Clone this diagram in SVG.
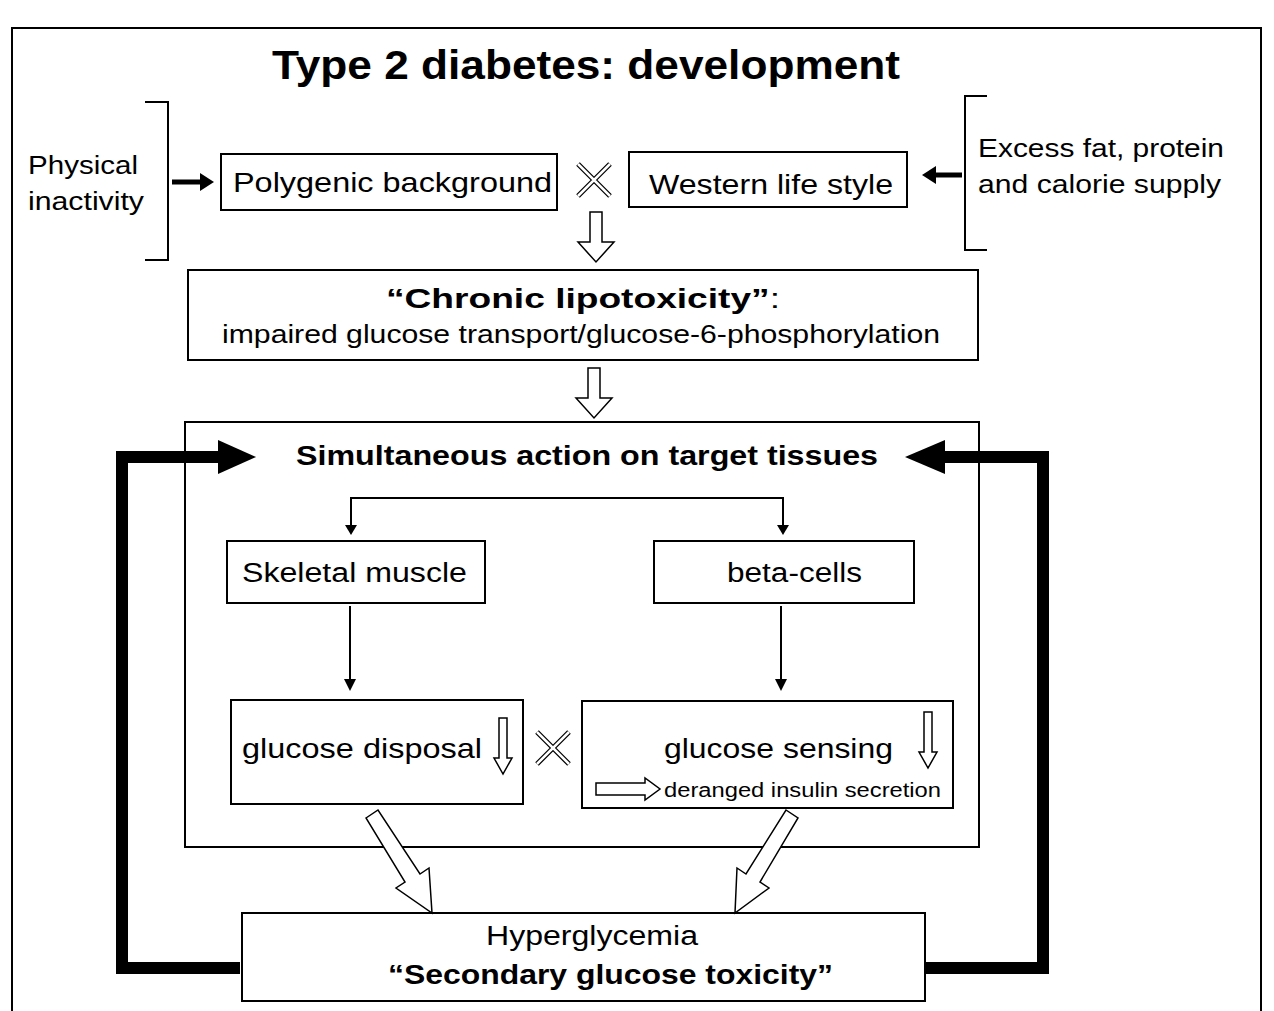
<svg xmlns="http://www.w3.org/2000/svg" width="1274" height="1011" viewBox="0 0 1274 1011">
<style>
.b{fill:#fff;stroke:#000;stroke-width:2}
.t{font-family:"Liberation Sans",Arial,sans-serif;fill:#000}
.h{fill:#fff;stroke:#000;stroke-width:1.5}
.th{fill:none;stroke:#000;stroke-width:12}
.ln{fill:none;stroke:#000;stroke-width:2}
</style>
<defs>
<g id="dn"><polygon class="h" points="-6,0 6,0 6,30 18,30 0,50 -18,30 -6,30"/></g>
<g id="sdn"><polygon class="h" points="-4,0 4,0 4,40 9,40 0,56 -9,40 -4,40"/></g>
<g id="x"><path d="M-16,-16 L16,16 M16,-16 L-16,16" stroke="#000" stroke-width="5"/><path d="M-16,-16 L16,16 M16,-16 L-16,16" stroke="#fff" stroke-width="2.5"/></g>
</defs>
<rect x="0" y="0" width="1274" height="1011" fill="#fff"/>
<rect x="12" y="28" width="1249" height="1000" fill="none" stroke="#000" stroke-width="2"/>
<text class="t" x="272" y="79" font-size="40" font-weight="bold" textLength="628" lengthAdjust="spacingAndGlyphs">Type 2 diabetes: development</text>

<g id="brackets">
<path class="ln" d="M145,102 H168 V260 H145" stroke-width="4"/>
<path class="ln" d="M987,96 H965 V250 H987" stroke-width="4"/>
<text class="t" x="28" y="174" font-size="26" textLength="110" lengthAdjust="spacingAndGlyphs">Physical</text>
<text class="t" x="28" y="210" font-size="26" textLength="116" lengthAdjust="spacingAndGlyphs">inactivity</text>
<text class="t" x="978" y="157" font-size="26" textLength="246" lengthAdjust="spacingAndGlyphs">Excess fat, protein</text>
<text class="t" x="978" y="193" font-size="26" textLength="243" lengthAdjust="spacingAndGlyphs">and calorie supply</text>
</g>

<g id="n1"><rect class="b" x="221" y="154" width="336" height="56"/><text class="t" x="233" y="192" font-size="28" textLength="319" lengthAdjust="spacingAndGlyphs">Polygenic background</text></g>
<g id="n2"><rect class="b" x="629" y="152" width="278" height="55"/><text class="t" x="649" y="194" font-size="28" textLength="244" lengthAdjust="spacingAndGlyphs">Western life style</text></g>
<g id="n3"><rect class="b" x="188" y="270" width="790" height="90"/>
<text class="t" x="386" y="308" font-size="27" textLength="394" lengthAdjust="spacingAndGlyphs"><tspan font-weight="bold">“Chronic lipotoxicity”</tspan>:</text>
<text class="t" x="222" y="343" font-size="26" textLength="718" lengthAdjust="spacingAndGlyphs">impaired glucose transport/glucose-6-phosphorylation</text></g>
<g id="n4"><rect class="b" x="185" y="422" width="794" height="425"/>
<text class="t" x="296" y="465" font-size="28" font-weight="bold" textLength="582" lengthAdjust="spacingAndGlyphs">Simultaneous action on target tissues</text></g>
<g id="n5"><rect class="b" x="227" y="541" width="258" height="62"/><text class="t" x="242" y="582" font-size="27" textLength="225" lengthAdjust="spacingAndGlyphs">Skeletal muscle</text></g>
<g id="n6"><rect class="b" x="654" y="541" width="260" height="62"/><text class="t" x="727" y="582" font-size="27" textLength="135" lengthAdjust="spacingAndGlyphs">beta-cells</text></g>
<g id="n7"><rect class="b" x="231" y="700" width="292" height="104"/><text class="t" x="242" y="758" font-size="28" textLength="240" lengthAdjust="spacingAndGlyphs">glucose disposal</text><use href="#sdn" x="503" y="718"/></g>
<g id="n8"><rect class="b" x="582" y="701" width="371" height="107"/><text class="t" x="664" y="758" font-size="28" textLength="229" lengthAdjust="spacingAndGlyphs">glucose sensing</text><use href="#sdn" x="928" y="712"/>
<polygon class="h" points="596,783 645,783 645,778 660,789 645,800 645,795 596,795"/>
<text class="t" x="664" y="797" font-size="20" textLength="277" lengthAdjust="spacingAndGlyphs">deranged insulin secretion</text></g>
<g id="n9"><rect class="b" x="242" y="913" width="683" height="88"/>
<text class="t" x="486" y="945" font-size="27" textLength="212" lengthAdjust="spacingAndGlyphs">Hyperglycemia</text>
<text class="t" x="388" y="984" font-size="27" font-weight="bold" textLength="445" lengthAdjust="spacingAndGlyphs">“Secondary glucose toxicity”</text></g>

<g id="connectors">
<path d="M172,182 H208" stroke="#000" stroke-width="5"/><polygon points="200,173 214,182 200,191" fill="#000"/>
<path d="M962,175 H932" stroke="#000" stroke-width="5"/><polygon points="936,166 922,175 936,184" fill="#000"/>
<use href="#x" x="594" y="180"/>
<use href="#dn" x="596" y="212"/>
<use href="#dn" x="594" y="368"/>
<path class="ln" d="M351,533 V498 H783 V533"/>
<polygon points="345,525 351,535 357,525" fill="#000"/><polygon points="777,525 783,535 789,525" fill="#000"/>
<path class="ln" d="M350,606 V685"/><polygon points="344,679 350,691 356,679" fill="#000"/>
<path class="ln" d="M781,606 V685"/><polygon points="775,679 781,691 787,679" fill="#000"/>
<use href="#x" x="553" y="748"/>
<polygon class="h" points="366,818 378,810 420,874 429,868 432,913 396,888 405,882"/>
<polygon class="h" points="786,810 798,818 760,882 769,888 735,913 737,868 746,874"/>
<path class="th" d="M240,968 H122 V457 H222"/>
<polygon points="218,440 256,457 218,474" fill="#000"/>
<path class="th" d="M926,968 H1043 V457 H940"/>
<polygon points="945,440 905,457 945,474" fill="#000"/>
</g>
</svg>
